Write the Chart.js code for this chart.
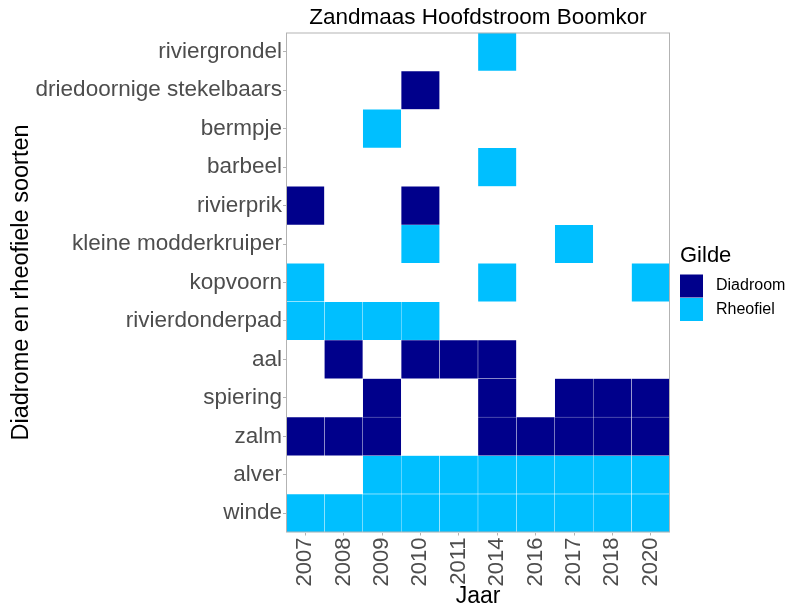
<!DOCTYPE html>
<html lang="nl">
<head>
<meta charset="UTF-8">
<title>Zandmaas Hoofdstroom Boomkor</title>
<script src="https://cdn.jsdelivr.net/npm/chart.js"></script>
<style>
  html, body { margin: 0; padding: 0; background: #fff; }
  canvas { display: block; }
</style>
</head>
<body>
<canvas id="tegels" width="790" height="606"></canvas>

<script>
// ---- gegevens ----
const jaren = ['2007', '2008', '2009', '2010', '2011', '2014', '2016', '2017', '2018', '2020'];

// soorten van boven naar beneden
const soorten = [
  'riviergrondel', 'driedoornige stekelbaars', 'bermpje', 'barbeel', 'rivierprik',
  'kleine modderkruiper', 'kopvoorn', 'rivierdonderpad', 'aal', 'spiering',
  'zalm', 'alver', 'winde'
];

// gilde per soort (zelfde volgorde)
const gildePerSoort = [
  'Rheofiel', 'Diadroom', 'Rheofiel', 'Rheofiel', 'Diadroom',
  'Rheofiel', 'Rheofiel', 'Rheofiel', 'Diadroom', 'Diadroom',
  'Diadroom', 'Rheofiel', 'Rheofiel'
];

// jaren waarin de soort gevangen is
const waarnemingen = [
  ['2014'],
  ['2010'],
  ['2009'],
  ['2014'],
  ['2007', '2010'],
  ['2010', '2017'],
  ['2007', '2014', '2020'],
  ['2007', '2008', '2009', '2010'],
  ['2008', '2010', '2011', '2014'],
  ['2009', '2014', '2017', '2018', '2020'],
  ['2007', '2008', '2009', '2014', '2016', '2017', '2018', '2020'],
  ['2009', '2010', '2011', '2014', '2016', '2017', '2018', '2020'],
  ['2007', '2008', '2009', '2010', '2011', '2014', '2016', '2017', '2018', '2020']
];

const gilden = ['Diadroom', 'Rheofiel'];
const kleuren = { Diadroom: '#00008B', Rheofiel: '#00BFFF' };

// ---- tegels per gilde ----
function tegelsVoor(gilde) {
  const out = [];
  soorten.forEach((s, i) => {
    if (gildePerSoort[i] !== gilde) return;
    waarnemingen[i].forEach(j => out.push({ x: j, y: [i - 0.5, i + 0.5] }));
  });
  return out;
}

const fam = '"Liberation Sans", Arial, sans-serif';
Chart.defaults.font.family = fam;

// paneelrand rondom (zoals ggplot)
const paneelRand = {
  id: 'paneelRand',
  afterDatasetsDraw(chart) {
    const a = chart.chartArea, ctx = chart.ctx;
    ctx.save();
    ctx.strokeStyle = '#B3B3B3';
    ctx.lineWidth = 1;
    ctx.strokeRect(a.left + 0.5, a.top + 0.5, a.right - a.left - 1, a.bottom - a.top - 1);
    ctx.restore();
  }
};

// legenda rechts
const gildeLegende = {
  id: 'gildeLegende',
  afterDraw(chart) {
    const ctx = chart.ctx;
    const a = chart.chartArea;
    const x = a.right + 10;
    const midden = (a.top + a.bottom) / 2;
    ctx.save();
    ctx.textBaseline = 'middle';
    ctx.textAlign = 'left';
    ctx.fillStyle = '#000';
    ctx.font = '22px ' + fam;
    ctx.fillText('Gilde', x, midden - 27);
    chart.data.datasets.forEach((ds, i) => {
      const y = midden - 8 + i * 23.5;
      ctx.fillStyle = ds.backgroundColor;
      ctx.fillRect(x, y, 23, 23);
      ctx.fillStyle = '#000';
      ctx.font = '16px ' + fam;
      ctx.fillText(ds.label, x + 36, y + 11.5);
    });
    ctx.restore();
  }
};

const config = {
  type: 'bar',
  data: {
    datasets: gilden.map(g => ({
      label: g,
      data: tegelsVoor(g),
      backgroundColor: kleuren[g],
      borderColor: 'rgba(255,255,255,0.55)',
      borderWidth: 0.5,
      borderSkipped: false,
      grouped: false,
      barPercentage: 1,
      categoryPercentage: 1
    }))
  },
  options: {
    responsive: false,
    animation: false,
    layout: { padding: { left: 0, right: 120, top: 0, bottom: 0 } },
    scales: {
      x: {
        type: 'category',
        labels: jaren,
        offset: true,
        grid: { display: true, drawOnChartArea: false, offset: false, tickLength: 3, color: '#B3B3B3' },
        border: { display: false },
        ticks: { autoSkip: false, minRotation: 90, maxRotation: 90, color: '#4D4D4D', font: { size: 22 }, padding: 2 },
        title: { display: true, text: 'Jaar', color: '#000', font: { size: 23, lineHeight: 0.8 }, padding: 0 },
        afterFit: s => { s.height = 73.5; }
      },
      y: {
        type: 'linear',
        reverse: true,
        min: -0.5,
        max: 12.5,
        afterBuildTicks: s => { s.ticks = soorten.map((_, i) => ({ value: i })); },
        grid: { display: true, drawOnChartArea: false, tickLength: 3, color: '#B3B3B3' },
        border: { display: false },
        ticks: { autoSkip: false, color: '#4D4D4D', font: { size: 22.5 }, padding: 1,
                 callback: v => soorten[v] },
        title: { display: true, text: 'Diadrome en rheofiele soorten', color: '#000',
                 font: { size: 23.5 }, padding: { top: 7, bottom: 0 } },
        afterFit: s => { s.width = 286; }
      }
    },
    plugins: {
      legend: { display: false },
      tooltip: { enabled: false },
      title: {
        display: true,
        fullSize: false,
        text: 'Zandmaas Hoofdstroom Boomkor',
        color: '#000',
        font: { size: 22.5, weight: 'normal' },
        padding: { top: 4.5, bottom: 1 }
      }
    }
  },
  plugins: [paneelRand, gildeLegende]
};

new Chart(document.getElementById('tegels').getContext('2d'), config);
</script>
</body>
</html>
